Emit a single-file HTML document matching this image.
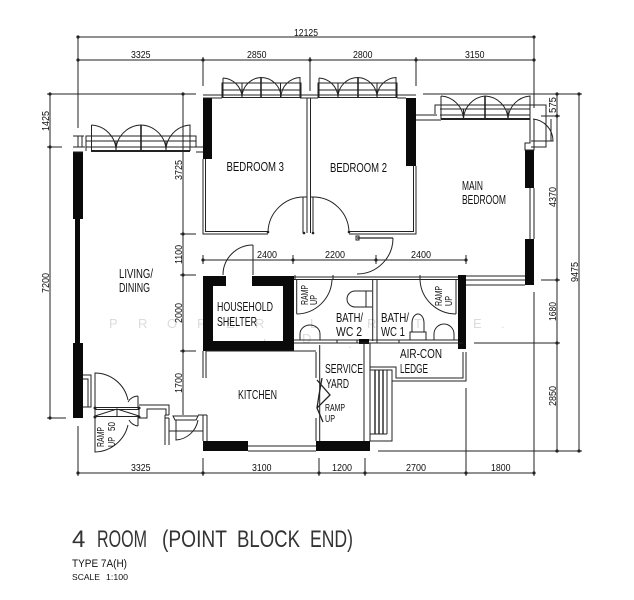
<!DOCTYPE html>
<html><head><meta charset="utf-8"><style>
html,body{margin:0;padding:0;background:#fff;width:634px;height:600px;overflow:hidden}
svg{display:block;filter:blur(0.35px)}
text{font-family:"Liberation Sans",sans-serif;fill:#111}
.d{font-size:10px}.l{font-size:12.5px}.r{font-size:10.5px}
text.w{font-size:13px;fill:#dcdcdc}
text.t{font-size:24px;fill:#333}
</style></head><body>
<svg width="634" height="600" viewBox="0 0 634 600" xmlns="http://www.w3.org/2000/svg">
<!-- watermark -->
<g>
<text class="w" x="109" y="328">P</text><text class="w" x="138" y="328">R</text><text class="w" x="167" y="328">O</text><text class="w" x="197" y="328">P</text><text class="w" x="226" y="328">E</text><text class="w" x="255" y="328">R</text><text class="w" x="285" y="328">T</text><text class="w" x="310" y="328">L</text><text class="w" x="367" y="328">R</text><text class="w" x="414" y="328">T</text><text class="w" x="473" y="328">E</text><text class="w" x="501" y="328">.</text>
<text class="w" x="263" y="348">L</text><text class="w" x="302" y="343">D</text><text class="w" x="348" y="348">.</text>
</g>
<!-- dimensions -->
<g stroke="#222" stroke-width="1" fill="none">
<path d="M78 37H534M78 60H534M78 37V128M203 57V86M310 57V91M416 57V86M534 37V108"/>
<path d="M50 94V418M47 94H196M47 147H62M47 418H66M183 94V415M180 234H196M180 275H196M180 351H196"/>
<path d="M557 94V451M579 94V451M423 94H582M541 116H560M541 280H560M474 343H560M378 451H582"/>
<path d="M466 388V476M534 292V476M78 426V476M203 458V476M319 458V476M365 458V476M78 473H534"/>
<path d="M203 260H466M203 255V264M293 255V264M376 255V264M466 255V264"/>
</g>
<g fill="#222">
<circle cx="78" cy="37" r="1.6"/><circle cx="534" cy="37" r="1.6"/><circle cx="78" cy="60" r="1.6"/><circle cx="203" cy="60" r="1.6"/><circle cx="310" cy="60" r="1.6"/><circle cx="416" cy="60" r="1.6"/><circle cx="534" cy="60" r="1.6"/>
<circle cx="50" cy="94" r="1.6"/><circle cx="50" cy="147" r="1.6"/><circle cx="50" cy="418" r="1.6"/><circle cx="183" cy="94" r="1.6"/><circle cx="183" cy="234" r="1.6"/><circle cx="183" cy="275" r="1.6"/><circle cx="183" cy="351" r="1.6"/>
<circle cx="557" cy="94" r="1.6"/><circle cx="579" cy="94" r="1.6"/><circle cx="557" cy="116" r="1.6"/><circle cx="557" cy="280" r="1.6"/><circle cx="557" cy="343" r="1.6"/><circle cx="557" cy="451" r="1.6"/><circle cx="579" cy="451" r="1.6"/>
<circle cx="78" cy="473" r="1.6"/><circle cx="203" cy="473" r="1.6"/><circle cx="319" cy="473" r="1.6"/><circle cx="365" cy="473" r="1.6"/><circle cx="466" cy="473" r="1.6"/><circle cx="534" cy="473" r="1.6"/>
<circle cx="203" cy="260" r="1.6"/><circle cx="293" cy="260" r="1.6"/><circle cx="376" cy="260" r="1.6"/><circle cx="466" cy="260" r="1.6"/>
</g>
<!-- black walls -->
<g fill="#0a0a0a">
<rect x="73" y="152" width="10" height="67"/><rect x="75" y="219" width="5" height="124"/><rect x="73" y="343" width="10" height="75"/>
<rect x="203" y="98" width="9" height="61"/><rect x="406" y="98" width="10" height="68"/>
<rect x="525" y="150" width="9" height="38"/><rect x="525" y="239" width="9" height="46"/>
<path fill-rule="evenodd" d="M203 276H294V351H203ZM213 286V341H283V286Z"/>
<rect x="458" y="275" width="8" height="74"/><rect x="359" y="339" width="10" height="5"/>
<rect x="316" y="441" width="54" height="10"/><rect x="203" y="441" width="45" height="10"/>
</g>
<rect x="226" y="276" width="26" height="10" fill="#fff"/>
<!-- walls -->
<g stroke="#222" stroke-width="1" fill="none">
<path d="M203 95H416M203 98H222M300 98H318M397 98H406"/>
<path d="M203 159V234H268M205.500 159V231.500H268"/>
<path d="M303 197V233M307 98V233M310.500 98V233M313 197V233"/>
<path d="M349 231.500H413.500V166M349 234H416V166"/>
<path d="M416 115H437M416 120H441"/>
<path d="M530 119V143H525V150H534V119M530 188V239M534 188V239"/>
<path d="M466 276H525M466 280H525M466 285H525"/>
<path d="M294 277H458M294 279.500H458M295 275V280M333 275V280M420 275V280"/>
<path d="M372.700 279V341M377 279V341M294 340H359M294 343H463M369 340H458M337 340V343M357 340V343M377 340V343M399 340V343"/>
<path d="M296.700 279V314M456 280V314"/>
<path d="M319.700 345V441M316 352V378M316 418V441M364 343V441M370 343V441"/>
<path d="M463 352V378H396V367H370M466 352V381H392V370H370"/>
<path d="M387 370V434M370 434H387M370 441H392V370"/>
<path d="M375 370V434M379 370V434M383 370V434" stroke-width="1.400"/>
<path d="M203 351V378M206 351V378M203 415V441M207 415V441"/>
<path d="M248 446H316M248 451H316M294 351H316M206 351H294"/>
<path d="M253 245V275"/>
<path d="M357 238H393" stroke-width="1.300"/>
<rect x="356" y="236" width="3" height="4"/>
<!-- arcs -->
<path d="M268 232A36 36 0 0 1 304 197H307M349 232A36 36 0 0 0 313 197H311"/>
<path d="M393 238A36 36 0 0 1 357 274"/>
<path d="M223 275A30 30 0 0 1 253 245"/>
<path d="M296.700 314A36 36 0 0 0 332 280M420 280A36 36 0 0 0 456 314"/>
<!-- bedroom 3 window -->
<path d="M222 98V83H301V98M222 90H301M222 97.500H301"/>
<path d="M223 78A20 20 0 0 1 242 97M242 97A20 20 0 0 1 261 77.500M261 77.500A20 20 0 0 1 281 97M281 97A20 20 0 0 1 300 77.500V98M223 78V98M242 83V98M280.500 83V98"/>
<path d="M261 77.500V98" stroke-width="1.600"/>
<!-- bedroom 2 window -->
<path d="M318 98V83H397V98M318 90H397M318 97.500H397"/>
<path d="M319 78A20 20 0 0 1 338 97M338 97A20 20 0 0 1 358 77.500M358 77.500A20 20 0 0 1 377 97M377 97A20 20 0 0 1 396 77.500V98M319 78V98M338 83V98M377 83V98"/>
<path d="M358 77.500V98" stroke-width="1.600"/>
<!-- living window -->
<path d="M86 151V136H196V147M86 141H196M86 147H196M73 147H85M73 152H83M73 136H84M78 136V147M82 136V147M196 147H203M196 152H203"/>
<path d="M91 151H190" stroke-width="2"/>
<path d="M91.500 125A26 26 0 0 1 116 151M116 151A26 26 0 0 1 141 125M141 125A26 26 0 0 1 166 151M166 151A26 26 0 0 1 190 125V151M91.500 125V151M116 141V151M166 141V151"/>
<path d="M141 125V151" stroke-width="1.600"/>
<!-- main bedroom window -->
<path d="M435 114V105H546V147H531M440 109H530M440 115H530"/>
<path d="M441 119H530" stroke-width="2"/>
<path d="M441 96A24 24 0 0 1 463.500 119M463.500 119A24 24 0 0 1 485 96M485 96A24 24 0 0 1 508 119M508 119A24 24 0 0 1 530 96V119M441 96V119M463.500 109V119M508 109V119"/>
<path d="M485 96V119" stroke-width="1.600"/>
<path d="M533 119A22 22 0 0 1 553 141H531M551 119V141"/>
<!-- toilets -->
<path d="M372 291H366V307H372M366 291H355A8 8 0 0 0 355 307H366"/>
<path d="M300 340V334A10 9 0 0 1 320 334V340"/>
<path d="M410 340V332H426V340M412 332V323A6 9 0 0 1 424 323V332"/>
<path d="M434 340V334A10 10 0 0 1 454 334V340"/>
<!-- service yard door -->
<g stroke-width="1.300"><path d="M317 380L330 395L317 408L323 422M322 378L319 395L317 408"/></g>
<!-- entrance -->
<path d="M83 375H91V407H83M83 379H88V407"/>
<path d="M95 407.500H139M95 409.500H139M95 416.500H139M95 407V417M139 407V417" stroke-width="1"/>
<path d="M95 407V373A34 34 0 0 1 128 400M138 396A12 12 0 0 0 128 402M138 396V407"/>
<path d="M95 417V452A35 35 0 0 0 128 425M138 426A12 12 0 0 1 129 420M138 417V426"/>
<path d="M95 416L117 409L139 416M117 409V416"/>
<path d="M139 405H169V415M139 418H147V409H166V415M165 415V445M169 418V445M165 415H169M165 418H169"/>
<path d="M173 416H198L196 420H175ZM169 431H203"/>
<path d="M198 420A24 24 0 0 1 176 440V420M198 415H207M203 415V441"/>
</g>
<g fill="#222"><circle cx="268" cy="232" r="1.300"/><circle cx="349" cy="232" r="1.300"/><circle cx="304" cy="233" r="1.300"/><circle cx="313" cy="233" r="1.300"/><circle cx="95" cy="408" r="1.500"/><circle cx="139" cy="408" r="1.500"/><circle cx="95" cy="417" r="1.500"/><circle cx="139" cy="417" r="1.500"/></g>
<!-- dimension text -->
<g>
<text class="d" x="294" y="36" textLength="24" lengthAdjust="spacingAndGlyphs">12125</text>
<text class="d" x="131" y="58" textLength="19.500" lengthAdjust="spacingAndGlyphs">3325</text>
<text class="d" x="247" y="58" textLength="19.500" lengthAdjust="spacingAndGlyphs">2850</text>
<text class="d" x="353" y="58" textLength="19.500" lengthAdjust="spacingAndGlyphs">2800</text>
<text class="d" x="465" y="58" textLength="19.500" lengthAdjust="spacingAndGlyphs">3150</text>
<text class="d" x="257" y="258" textLength="20" lengthAdjust="spacingAndGlyphs">2400</text>
<text class="d" x="325" y="258" textLength="20" lengthAdjust="spacingAndGlyphs">2200</text>
<text class="d" x="411" y="258" textLength="20" lengthAdjust="spacingAndGlyphs">2400</text>
<text class="d" x="131" y="471" textLength="19.500" lengthAdjust="spacingAndGlyphs">3325</text>
<text class="d" x="252" y="471" textLength="19.500" lengthAdjust="spacingAndGlyphs">3100</text>
<text class="d" x="332" y="471" textLength="20" lengthAdjust="spacingAndGlyphs">1200</text>
<text class="d" x="406" y="471" textLength="20" lengthAdjust="spacingAndGlyphs">2700</text>
<text class="d" x="491" y="471" textLength="19.500" lengthAdjust="spacingAndGlyphs">1800</text>
<text class="d" transform="translate(49 131) rotate(-90)" textLength="20" lengthAdjust="spacingAndGlyphs">1425</text>
<text class="d" transform="translate(49 293) rotate(-90)" textLength="20" lengthAdjust="spacingAndGlyphs">7200</text>
<text class="d" transform="translate(182 180) rotate(-90)" textLength="20" lengthAdjust="spacingAndGlyphs">3725</text>
<text class="d" transform="translate(182 264) rotate(-90)" textLength="19" lengthAdjust="spacingAndGlyphs">1100</text>
<text class="d" transform="translate(182 323) rotate(-90)" textLength="20" lengthAdjust="spacingAndGlyphs">2000</text>
<text class="d" transform="translate(182 393) rotate(-90)" textLength="20" lengthAdjust="spacingAndGlyphs">1700</text>
<text class="d" transform="translate(556 113) rotate(-90)" textLength="16" lengthAdjust="spacingAndGlyphs">575</text>
<text class="d" transform="translate(556 207) rotate(-90)" textLength="20" lengthAdjust="spacingAndGlyphs">4370</text>
<text class="d" transform="translate(556 321) rotate(-90)" textLength="19" lengthAdjust="spacingAndGlyphs">1680</text>
<text class="d" transform="translate(556 406) rotate(-90)" textLength="20" lengthAdjust="spacingAndGlyphs">2850</text>
<text class="d" transform="translate(578 282) rotate(-90)" textLength="20" lengthAdjust="spacingAndGlyphs">9475</text>
</g>
<!-- room labels -->
<text class="l" x="226.500" y="171" textLength="57.500" lengthAdjust="spacingAndGlyphs">BEDROOM 3</text>
<text class="l" x="330" y="172" textLength="57" lengthAdjust="spacingAndGlyphs">BEDROOM 2</text>
<text class="l" x="462" y="190" textLength="21" lengthAdjust="spacingAndGlyphs">MAIN</text>
<text class="l" x="462" y="204" textLength="44" lengthAdjust="spacingAndGlyphs">BEDROOM</text>
<text class="l" x="119" y="278" textLength="34" lengthAdjust="spacingAndGlyphs">LIVING/</text>
<text class="l" x="119" y="292" textLength="31" lengthAdjust="spacingAndGlyphs">DINING</text>
<text class="l" x="217" y="311" textLength="56" lengthAdjust="spacingAndGlyphs">HOUSEHOLD</text>
<text class="l" x="217" y="326" textLength="40" lengthAdjust="spacingAndGlyphs">SHELTER</text>
<text class="l" x="238" y="399" textLength="39" lengthAdjust="spacingAndGlyphs">KITCHEN</text>
<text class="l" x="336" y="322" textLength="27" lengthAdjust="spacingAndGlyphs">BATH/</text>
<text class="l" x="336" y="336" textLength="26" lengthAdjust="spacingAndGlyphs">WC 2</text>
<text class="l" x="381" y="322" textLength="28" lengthAdjust="spacingAndGlyphs">BATH/</text>
<text class="l" x="381" y="336" textLength="24" lengthAdjust="spacingAndGlyphs">WC 1</text>
<text class="l" x="400" y="358" textLength="42" lengthAdjust="spacingAndGlyphs">AIR-CON</text>
<text class="l" x="400" y="373" textLength="28" lengthAdjust="spacingAndGlyphs">LEDGE</text>
<text class="l" x="325" y="373" textLength="38" lengthAdjust="spacingAndGlyphs">SERVICE</text>
<text class="l" x="326" y="388" textLength="23" lengthAdjust="spacingAndGlyphs">YARD</text>
<text class="r" x="325" y="411" textLength="20" lengthAdjust="spacingAndGlyphs">RAMP</text>
<text class="r" x="325" y="422" textLength="10" lengthAdjust="spacingAndGlyphs">UP</text>
<text class="r" transform="translate(308 305) rotate(-90)" textLength="20" lengthAdjust="spacingAndGlyphs">RAMP</text>
<text class="r" transform="translate(317 305) rotate(-90)" textLength="10" lengthAdjust="spacingAndGlyphs">UP</text>
<text class="r" transform="translate(442 306) rotate(-90)" textLength="20" lengthAdjust="spacingAndGlyphs">RAMP</text>
<text class="r" transform="translate(452 306) rotate(-90)" textLength="10" lengthAdjust="spacingAndGlyphs">UP</text>
<text class="r" transform="translate(104 447) rotate(-90)" textLength="20" lengthAdjust="spacingAndGlyphs">RAMP</text>
<text class="r" transform="translate(115 447) rotate(-90)" textLength="10" lengthAdjust="spacingAndGlyphs">UP</text>
<text class="r" transform="translate(115 431) rotate(-90)" textLength="9" lengthAdjust="spacingAndGlyphs">50</text>
<!-- title -->
<text class="t" x="72" y="547">4</text>
<text class="t" x="97" y="547" textLength="50" lengthAdjust="spacingAndGlyphs">ROOM</text>
<text class="t" x="162" y="547" textLength="65" lengthAdjust="spacingAndGlyphs">(POINT</text>
<text class="t" x="237" y="547" textLength="63" lengthAdjust="spacingAndGlyphs">BLOCK</text>
<text class="t" x="310" y="547" textLength="43" lengthAdjust="spacingAndGlyphs">END)</text>
<text x="72" y="567" font-size="11" textLength="55" lengthAdjust="spacingAndGlyphs">TYPE 7A(H)</text>
<text x="72" y="580" font-size="8.500" textLength="28" lengthAdjust="spacingAndGlyphs">SCALE</text>
<text x="106" y="580" font-size="8.500" textLength="22" lengthAdjust="spacingAndGlyphs">1:100</text>
</svg>
</body></html>
